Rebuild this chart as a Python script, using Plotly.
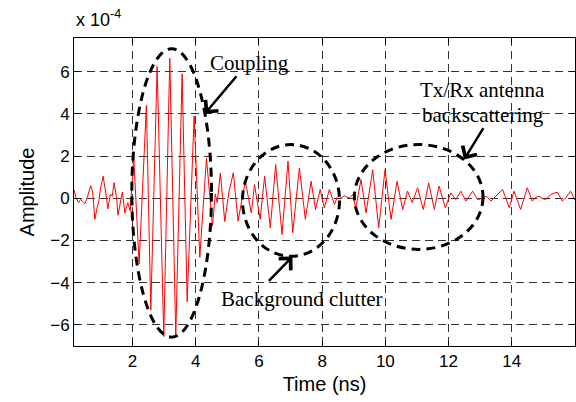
import plotly.graph_objects as go

# Time (ns) and amplitude (x 1e-4)
time_ns = [
    0.15, 0.22, 0.30, 0.36, 0.42, 0.50, 0.58, 0.68, 0.74, 0.81, 0.88, 0.94, 0.98, 1.07, 1.15, 1.22, 1.30,
    1.36, 1.42, 1.50, 1.54, 1.62, 1.68, 1.76, 1.85, 1.93,
    2.04, 2.21, 2.44, 2.58, 2.78, 2.99, 3.18, 3.37, 3.57, 3.73, 3.95, 4.13, 4.34, 4.53,
    4.62, 4.68, 4.78, 4.92, 5.05, 5.19, 5.34, 5.57, 5.76, 5.86, 6.04, 6.18, 6.36, 6.53,
    6.73, 6.92, 7.07, 7.28, 7.47, 7.65, 7.79, 7.94, 8.07, 8.23, 8.39, 8.48, 8.55, 8.62, 8.70, 8.78, 8.86,
    8.98, 9.06, 9.23, 9.39, 9.60, 9.79, 9.99, 10.18, 10.37, 10.55, 10.70, 10.85, 11.02,
    11.20, 11.37, 11.55, 11.70, 11.90, 12.07, 12.23, 12.39, 12.55, 12.76, 12.92, 13.07,
    13.20, 13.34, 13.50, 13.71, 13.92, 14.07, 14.28, 14.49, 14.65, 14.76, 14.86, 14.96, 15.07, 15.25,
    15.44, 15.60, 15.72, 15.86, 16.00,
]
amp_e4 = [
    0.40, 0.00, -0.20, -0.05, -0.15, -0.25, 0.10, 0.60, 0.30, -1.00, -0.45, -0.10, 0.40, 1.05, 0.30, -0.50, 0.20,
    0.10, 0.75, 0.00, -0.80, -0.20, 0.30, -0.70, -0.20, -0.60,
    1.98, -3.10, 4.40, -5.30, 6.25, -6.55, 6.65, -6.52, 5.90, -4.90, 3.90, -2.80, 1.90, -1.30,
    0.20, -0.20, 1.20, -1.10, 0.30, 1.21, -1.08, 0.81, -0.69, 0.65, -1.00, 1.05, -1.40, 1.60,
    -1.71, 1.76, -1.63, 1.44, -1.00, 0.81, -0.53, 0.42, -0.45, 0.42, -0.29, 0.05, 0.10, 0.02, 0.13, 0.06, 0.02,
    0.18, -0.50, 0.89, -0.69, 1.36, -1.40, 1.36, -1.00, 0.81, -0.53, 0.34, -0.20, 0.50,
    -0.53, 0.73, -0.53, 0.58, -0.45, 0.26, -0.06, 0.34, -0.13, 0.34, -0.06, 0.00,
    0.10, -0.13, 0.10, 0.42, -0.45, 0.34, -0.53, 0.50, -0.13, 0.05, 0.10, 0.00, -0.06, 0.20,
    0.29, -0.13, 0.05, 0.34, -0.10,
]
x_ticks = [2, 4, 6, 8, 10, 12, 14]
y_ticks = [-6, -4, -2, 0, 2, 4, 6]

# Annotation ellipses: (x0, x1, y0, y1)
ellipses = [
    (1.98, 4.50, -6.58, 7.09),
    (5.48, 8.55, -2.75, 2.55),
    (9.02, 13.09, -2.42, 2.55),
]
# Annotation labels: (text, x, y)
labels = [
    ("Coupling", 5.71, 6.43),
    ("Tx/Rx antenna", 13.08, 5.12),
    ("backscattering", 13.08, 3.94),
    ("Background clutter", 7.35, -4.78),
]
# Arrows: (tail_x, tail_y, head_x, head_y)
arrows = [
    (5.33, 5.86, 4.29, 4.01),
    (6.27, -3.98, 7.06, -2.76),
    (13.13, 3.40, 12.49, 1.84),
]

fig = go.Figure()
fig.add_trace(go.Scatter(x=time_ns, y=amp_e4, mode="lines",
                         line=dict(color="#ff0000", width=1), showlegend=False))

for (x0, x1, y0, y1) in ellipses:
    fig.add_shape(type="circle", xref="x", yref="y", x0=x0, x1=x1, y0=y0, y1=y1,
                  line=dict(color="black", width=3, dash="9px,6px"))

serif = "Liberation Serif, Times New Roman, serif"
for (t, x, y) in labels:
    fig.add_annotation(x=x, y=y, xref="x", yref="y", text=t, showarrow=False,
                       font=dict(family=serif, size=21, color="black"))
for (tx, ty, hx, hy) in arrows:
    fig.add_annotation(x=hx, y=hy, ax=tx, ay=ty, xref="x", yref="y", axref="x", ayref="y",
                       text="", showarrow=True, arrowhead=4, arrowsize=1.3,
                       arrowwidth=2.5, arrowcolor="black", standoff=0)

fig.add_annotation(x=0, y=1.0, xref="paper", yref="paper", xanchor="left", yanchor="bottom",
                   yshift=6, text="x 10<sup>-4</sup>", showarrow=False,
                   font=dict(family="Liberation Sans, Arial, sans-serif", size=18, color="black"))

grid = dict(showgrid=True, gridcolor="#333333", griddash="8px,5px", gridwidth=1)
fig.update_xaxes(range=[0.15, 16.0], tickvals=x_ticks, ticks="inside", ticklen=5,
                 tickcolor="black", showline=True, linecolor="black", linewidth=1,
                 mirror="ticks", zeroline=False,
                 title=dict(text="Time (ns)", standoff=6), **grid)
fig.update_yaxes(range=[-7.0, 7.6], tickvals=y_ticks, ticks="inside", ticklen=5,
                 tickcolor="black", showline=True, linecolor="black", linewidth=1,
                 mirror="ticks", zeroline=False,
                 title=dict(text="Amplitude", standoff=10), **grid)

fig.update_layout(
    width=576, height=402,
    margin=dict(l=74, r=1, t=38, b=56),
    paper_bgcolor="white", plot_bgcolor="white",
    font=dict(family="Liberation Sans, Arial, sans-serif", size=17, color="black"),
)
fig.write_html("out.html")
